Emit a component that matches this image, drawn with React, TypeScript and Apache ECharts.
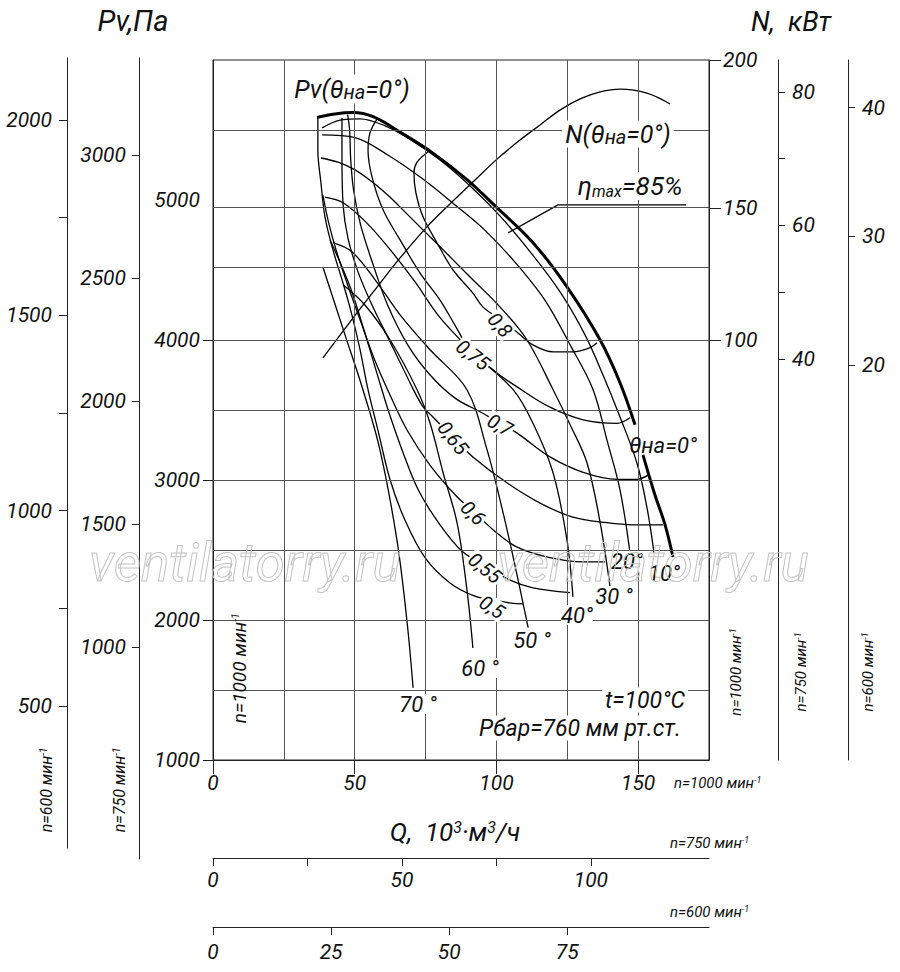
import React, { useEffect, useRef } from "react";
import * as echarts from "echarts";

// ---------------- data ----------------
// Q in 10^3 m3/h (n = 1000 min^-1), Pv in Pa, N in kW
const qTicks1000 = [0, 50, 100, 150];
const qTicks750 = [0, 25, 50, 75, 100];
const qLabels750 = [0, 50, 100];
const qTicks600 = [0, 25, 50, 75];
const pTicks1000 = [1000, 2000, 3000, 4000];
const pLabels1000 = [1000, 2000, 3000, 4000, 5000];
const nTicks1000 = [100, 147, 200]; // "150" mark sits on the grid line
const nTicks750 = [40, 50, 60, 70, 80];
const nLabels750 = [40, 60, 80];
const nTicks600 = [20, 30, 40];
const pTicks750 = [1000, 1500, 2000, 2500, 3000];
const pTicks600 = [500, 750, 1000, 1250, 1500, 1750, 2000];
const pLabels600 = [500, 1000, 1500, 2000];

const gridQ = [25, 50, 75, 100, 125, 150];
const gridP = [1500, 2000, 2500, 3000, 3500, 4000, 4520, 4945, 5500];

// Pv at theta = 0 (bold), null = break under the label
const pv0Q = [36.7, 43, 49.4, 56.5, 66, 77.6, 89.6, 100.2, 112.9, 124.9, 136.6, 143.6, 148.9, null, 151.7, 155.9, 159.5, 162.3];
const pv0P = [5590, 5615, 5625, 5595, 5485, 5335, 5145, 4945, 4695, 4380, 4000, 3695, 3395, null, 3180, 2895, 2680, 2450];

const th10Q = [38.5, 44.8, 51.9, 60.7, 69.5, 80.1, 90.7, 101.3, 111.9, 122.4, 131.3, 137.6, 143.6, 149.6, 153.1, 155.6];
const th10P = [5515, 5570, 5580, 5530, 5435, 5285, 5100, 4885, 4630, 4345, 4035, 3750, 3450, 3120, 2805, 2480];
const th20Q = [38.5, 50.1, 61.8, 73.7, 85.4, 95.9, 106.6, 117.1, 126.0, 134.1, 139.0, 143.6, 147.1];
const th20P = [5465, 5445, 5320, 5155, 4965, 4785, 4555, 4285, 3965, 3645, 3285, 2930, 2485];
const th30Q = [38.1, 44.1, 50.1, 56.1, 62.5, 67.7, 79.4, 90.7, 101.3, 110.8, 120.0, 126.0, 132.0, 136.6, 140.1];
const th30P = [5300, 5270, 5215, 5130, 5020, 4915, 4680, 4450, 4235, 4000, 3645, 3395, 3120, 2695, 2235];
const th40Q = [39.5, 45.9, 54.3, 62.5, 71.3, 80.1, 92.5, 105.9, 112.9, 120.0, 124.9, 127.0];
const th40P = [5020, 4980, 4835, 4645, 4415, 4160, 3895, 3645, 3405, 3050, 2570, 2165];
const th50Q = [42.3, 49.0, 57.2, 66.0, 76.6, 89.6, 96.7, 101.3, 105.9, 111.2];
const th50P = [4695, 4630, 4430, 4180, 3930, 3645, 3215, 2855, 2450, 1945];
const th60Q = [45.9, 53.6, 62.5, 72.0, 76.6, 81.2, 86.1, 89.6, 91.7];
const th60P = [4395, 4250, 4000, 3645, 3405, 3050, 2695, 2215, 1800];
const th70Q = [38.8, 46.6, 52.9, 58.9, 64.9, 68.5, 70.6];
const th70P = [4520, 4035, 3645, 3215, 2570, 1980, 1515];

// efficiency contours
const e80Q = [75.9, 72.0, 70.9, 71.6, 74.1, 79.0, 84.7, 91.7, 95.3, 101.5, 107.6, 112.9, 120.0, 127.0, 133.0, 135.5];
const e80P = [5345, 5270, 5195, 5050, 4880, 4695, 4500, 4335, 4235, 4145, 4050, 3965, 3915, 3915, 3945, 3980];
const e75Q = [57.9, 55.4, 54.7, 56.1, 60.0, 66.0, 73.0, 80.1, 85.4, 90.7, 100.2, 107.3, 118.9, 130.6, 142.6, 147.1];
const e75P = [5580, 5480, 5355, 5165, 4930, 4715, 4480, 4285, 4105, 3930, 3765, 3665, 3520, 3430, 3405, 3445];
const e70Q = [47.5, 48.2, 48.6, 49.6, 52.1, 56.3, 61.6, 68.7, 76.6, 85.4, 94.9, 101.1, 107.3, 118.9, 130.6, 142.6, 149.6, 153.5];
const e70P = [5610, 5500, 5285, 5070, 4820, 4550, 4250, 3965, 3750, 3585, 3480, 3405, 3335, 3165, 3055, 3005, 3005, 3035];
const e65Q = [45.5, 45.5, 45.9, 47.6, 51.2, 56.1, 61.8, 67.7, 73.7, 77.6, 84.7, 91.7, 103.7, 115.4, 127.0, 139.0, 148.2, 158.8];
const e65P = [5585, 5320, 4965, 4730, 4485, 4250, 4015, 3770, 3535, 3450, 3305, 3165, 2980, 2835, 2735, 2695, 2680, 2680];
const e60Q = [38.8, 40.6, 43.4, 47.3, 51.9, 56.8, 62.5, 68.5, 76.6, 86.1, 92.5, 98.8, 107.3, 118.9, 130.6, 138.3];
const e60P = [5035, 4855, 4645, 4405, 4145, 3870, 3605, 3355, 3105, 2880, 2765, 2645, 2520, 2445, 2415, 2415];
const e55Q = [41.3, 44.8, 49.0, 53.3, 57.5, 61.8, 66.7, 72.4, 80.1, 88.2, 96.5, 104.8, 112.9, 126.0];
const e55P = [4715, 4555, 4345, 4070, 3785, 3500, 3215, 2930, 2680, 2485, 2385, 2285, 2230, 2195];
const e50Q = [37.0, 37.0, 38.1, 39.5, 42.3, 45.9, 49.0, 51.9, 54.7, 58.2, 62.5, 67.7, 74.8, 83.6, 92.4, 98.8, 105.2, 109.4];
const e50P = [5585, 5355, 5120, 4880, 4645, 4405, 4180, 3930, 3645, 3355, 3000, 2715, 2445, 2265, 2170, 2145, 2120, 2115];

// power at theta = 0 (kW, n = 1000)
const nQ = [38.8, 48.3, 57.9, 66.0, 75.5, 83.6, 91.7, 100.2, 108.3, 115.4, 122.4, 129.5, 136.6, 143.6, 153.1, 161.3];
const nN = [93.6, 106.4, 118.9, 129.3, 140.4, 148.6, 156.4, 164.6, 171.4, 176.8, 182.1, 186.1, 188.6, 189.6, 188.2, 184.3];

// leader line of the eta max label
const leadQ = [104.1, 121.7, 166.9];
const leadP = [4765, 4965, 4965];

// ---------------- chart ----------------
const FONT = "Roboto, 'Liberation Sans', sans-serif";
const INK = "#111";

function txt(text: string, x: number, y: number, size: number, o: any = {}) {
  const base = { fontFamily: FONT, fontStyle: "italic", fill: INK };
  return {
    type: "text",
    x,
    y,
    z: 100,
    rotation: o.rot || 0,
    silent: true,
    style: {
      text,
      fontSize: size,
      fontFamily: FONT,
      fontStyle: "italic",
      fill: o.fill || INK,
      align: o.align || "center",
      verticalAlign: "middle",
      backgroundColor: o.bg,
      padding: o.pad,
      lineHeight: o.lh,
      rich: {
        s: { ...base, fontSize: Math.round(size * 0.8), verticalAlign: "bottom" },
        m: { ...base, fontSize: Math.round(size * 0.6), verticalAlign: "bottom" },
        sup: { ...base, fontSize: Math.round(size * 0.6), verticalAlign: "top" },
      },
    },
  };
}

function pairs(q: (number | null)[], p: (number | null)[]) {
  return q.map((x, i) => [x, p[i]]);
}

function curve(q: any[], p: any[], o: any = {}) {
  return {
    type: "line",
    xAxisIndex: 0,
    yAxisIndex: o.yAxisIndex ?? 0,
    data: pairs(q, p),
    showSymbol: false,
    symbol: "none",
    smooth: o.smooth ?? 0.35,
    lineStyle: { color: "#000", width: o.width ?? 1.3 },
    silent: true,
    z: 3,
  };
}

const plain = (v: number) => String(v);

function buildOption() {
  const axisLabel = { fontFamily: FONT, fontStyle: "italic", fontSize: 21, color: INK, formatter: plain };
  const aLine = { show: true, onZero: false, lineStyle: { color: "#222", width: 1 } };
  const tickStyle = { color: "#222", width: 1 };
  const gi = pv0Q.indexOf(null);

  const etaLabels: any[] = [
    ["0,8", 500, 325, -0.85],
    ["0,75", 473, 355, -0.66],
    ["0,7", 500, 425, -0.5],
    ["0,65", 453, 438, -0.9],
    ["0,6", 473, 513, -0.78],
    ["0,55", 485, 568, -0.68],
    ["0,5", 492, 607, -0.57],
  ];
  const degLabels: any[] = [
    ["10°", 664, 573],
    ["20°", 627, 561],
    ["30 °", 614, 596],
    ["40°", 577, 615],
    ["50 °", 532, 640],
    ["60 °", 480, 668],
    ["70 °", 418, 704],
  ];

  const graphic: any[] = [
    txt("Pv,Па", 133, 21, 29),
    txt("N,  кВт", 791, 22, 27),
    txt("Pv(θ{s|на}=0°)", 352, 89, 25, { bg: "#fff", pad: [2, 3] }),
    txt("N(θ{s|на}=0°)", 618, 134, 25, { bg: "#fff", pad: [1, 3] }),
    txt("η{m|max}=85%", 630, 186, 26, { bg: "#fff", pad: [1, 3] }),
    txt("θна=0°", 663, 445, 22),
    txt("t=100°C", 645, 700, 23, { bg: "#fff", pad: [1, 3] }),
    txt("Pбар=760 мм рт.ст.", 580, 728, 23, { bg: "#fff", pad: [1, 3] }),
    txt("Q,  10{sup|3}·м{sup|3}/ч", 455, 832, 26),
    txt("n=1000 мин{sup|-1}", 674, 783, 15, { align: "left" }),
    txt("n=750 мин{sup|-1}", 670, 843, 15, { align: "left" }),
    txt("n=600 мин{sup|-1}", 670, 912, 15, { align: "left" }),
    txt("n=1000 мин{sup|-1}", 239, 668, 19, { rot: Math.PI / 2 }),
    txt("n=1000 мин{sup|-1}", 736, 672, 15, { rot: Math.PI / 2 }),
    txt("n=750 мин{sup|-1}", 801, 672, 15, { rot: Math.PI / 2 }),
    txt("n=600 мин{sup|-1}", 868, 672, 15, { rot: Math.PI / 2 }),
    txt("n=600 мин{sup|-1}", 46, 790, 16, { rot: Math.PI / 2 }),
    txt("n=750 мин{sup|-1}", 119, 790, 16, { rot: Math.PI / 2 }),
    ...etaLabels.map(([t, x, y, r]) => txt(t, x, y, 20, { rot: r, bg: "#fff", pad: [0, 1] })),
    ...degLabels.map(([t, x, y]) => txt(t, x, y, 22, { bg: "#fff", pad: 0, lh: 20 })),
    {
      type: "text", x: 245, y: 563, z: 120, silent: true,
      style: { text: "ventilatorry.ru", fontSize: 53, fontFamily: FONT, fontStyle: "italic", fill: "none", stroke: "#c4c4c4", lineWidth: 1, align: "center", verticalAlign: "middle" },
    },
    {
      type: "text", x: 653, y: 563, z: 120, silent: true,
      style: { text: "ventilatorry.ru", fontSize: 53, fontFamily: FONT, fontStyle: "italic", fill: "none", stroke: "#c4c4c4", lineWidth: 1, align: "center", verticalAlign: "middle" },
    },
  ];

  const hiddenX = (g: number) => ({ gridIndex: g, type: "value", show: false, min: 0, max: 1 });
  const hiddenY = (g: number) => ({ gridIndex: g, type: "value", show: false, min: 0, max: 1 });

  return {
    animation: false,
    backgroundColor: "#fff",
    grid: [
      { left: 213, top: 60, width: 496, height: 700, show: true, borderColor: "#222", borderWidth: 1, backgroundColor: "transparent" },
      { left: 139, top: 58, width: 1, height: 801 },
      { left: 67, top: 58, width: 1, height: 790 },
      { left: 213, top: 857, width: 496, height: 1 },
      { left: 213, top: 926, width: 496, height: 1 },
    ],
    xAxis: [
      {
        gridIndex: 0, type: "value", min: 0, max: 175, interval: 50,
        axisLine: aLine,
        axisTick: { show: true, length: 14, lineStyle: tickStyle, customValues: qTicks1000 },
        axisLabel: { ...axisLabel, margin: 12, customValues: qTicks1000 },
        splitLine: { show: false },
      },
      hiddenX(1),
      hiddenX(2),
      {
        gridIndex: 3, type: "value", min: 0, max: 131.25,
        axisLine: aLine,
        axisTick: { show: true, length: 8, lineStyle: tickStyle, customValues: qTicks750 },
        axisLabel: { ...axisLabel, margin: 11, customValues: qLabels750 },
        splitLine: { show: false },
      },
      {
        gridIndex: 4, type: "value", min: 0, max: 105,
        axisLine: aLine,
        axisTick: { show: true, length: 8, lineStyle: tickStyle, customValues: qTicks600 },
        axisLabel: { ...axisLabel, margin: 14, customValues: qTicks600 },
        splitLine: { show: false },
      },
    ],
    yAxis: [
      {
        gridIndex: 0, type: "value", position: "left", min: 1000, max: 6000,
        axisLine: aLine,
        axisTick: { show: true, length: 10, lineStyle: tickStyle, customValues: pTicks1000 },
        axisLabel: { ...axisLabel, margin: 13, customValues: pLabels1000 },
        splitLine: { show: false },
      },
      {
        gridIndex: 0, type: "value", position: "right", min: -50, max: 200,
        axisLine: aLine,
        axisTick: { show: true, length: 12, lineStyle: tickStyle, customValues: nTicks1000 },
        axisLabel: { ...axisLabel, margin: 14, customValues: nTicks1000, formatter: (v: number) => String(Math.round(v / 50) * 50) },
        splitLine: { show: false },
      },
      {
        gridIndex: 0, type: "value", position: "right", offset: 69, min: -20.07, max: 84.79,
        axisLine: aLine,
        axisTick: { show: true, length: 7, lineStyle: tickStyle, customValues: nTicks750 },
        axisLabel: { ...axisLabel, margin: 14, customValues: nLabels750 },
        splitLine: { show: false },
      },
      {
        gridIndex: 0, type: "value", position: "right", offset: 139, min: -10.7, max: 43.71,
        axisLine: aLine,
        axisTick: { show: true, length: 7, lineStyle: tickStyle, customValues: nTicks600 },
        axisLabel: { ...axisLabel, margin: 14, customValues: nTicks600 },
        splitLine: { show: false },
      },
      {
        gridIndex: 1, type: "value", position: "left", min: 139.9, max: 3394.1,
        axisLine: aLine,
        axisTick: { show: true, length: 7, lineStyle: tickStyle, customValues: pTicks750 },
        axisLabel: { ...axisLabel, margin: 13, customValues: pTicks750 },
        splitLine: { show: false },
      },
      {
        gridIndex: 2, type: "value", position: "left", min: 136.5, max: 2158.7,
        axisLine: aLine,
        axisTick: { show: true, length: 8, lineStyle: tickStyle, customValues: pTicks600 },
        axisLabel: { ...axisLabel, margin: 15, customValues: pLabels600 },
        splitLine: { show: false },
      },
      hiddenY(3),
      hiddenY(4),
    ],
    series: [
      {
        type: "line", xAxisIndex: 0, yAxisIndex: 0, data: [], silent: true, z: 1,
        markLine: {
          silent: true, symbol: ["none", "none"], animation: false,
          label: { show: false },
          lineStyle: { color: "#555", width: 1, type: "solid" },
          emphasis: { disabled: true },
          data: [...gridQ.map((v) => ({ xAxis: v })), ...gridP.map((v) => ({ yAxis: v }))],
        },
      },
      curve(pv0Q.slice(0, gi), pv0P.slice(0, gi), { width: 3 }),
      curve(pv0Q.slice(gi + 1), pv0P.slice(gi + 1), { width: 3 }),
      curve(th10Q, th10P),
      curve(th20Q, th20P),
      curve(th30Q, th30P),
      curve(th40Q, th40P),
      curve(th50Q, th50P),
      curve(th60Q, th60P),
      curve(th70Q, th70P),
      curve(e80Q, e80P),
      curve(e75Q, e75P),
      curve(e70Q, e70P),
      curve(e65Q, e65P),
      curve(e60Q, e60P),
      curve(e55Q, e55P),
      curve(e50Q, e50P),
      curve(nQ, nN, { yAxisIndex: 1 }),
      curve(leadQ, leadP, { smooth: false }),
    ],
    graphic: { elements: graphic },
  };
}

export default function App() {
  const ref = useRef<HTMLDivElement>(null);
  useEffect(() => {
    const chart = echarts.init(ref.current as HTMLDivElement, null, { renderer: "svg" });
    chart.setOption(buildOption() as any);
    return () => chart.dispose();
  }, []);
  return <div ref={ref} style={{ position: "absolute", left: 0, top: 0, width: 900, height: 972 }} />;
}
